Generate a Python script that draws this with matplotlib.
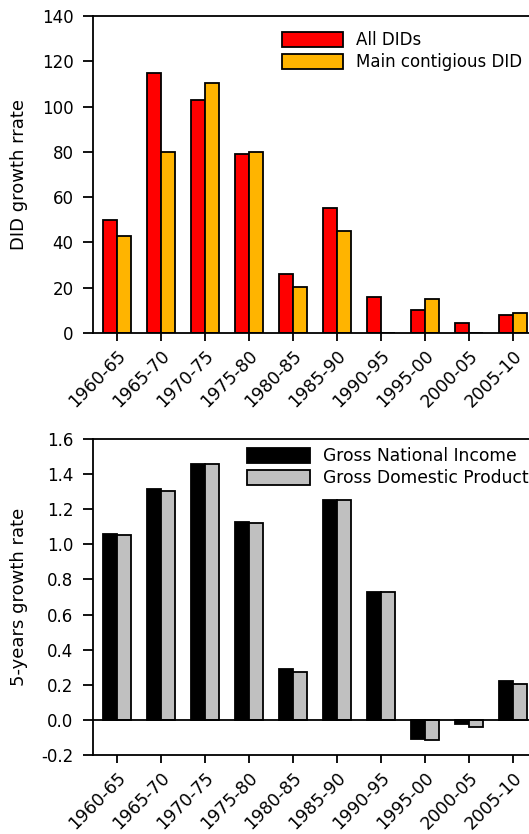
import numpy as np
import matplotlib
matplotlib.use('Agg')
import matplotlib.pyplot as plt

# data
periods = ['1960-65', '1965-70', '1970-75', '1975-80', '1980-85',
           '1985-90', '1990-95', '1995-00', '2000-05', '2005-10']
all_dids = [50, 115, 103, 79, 26, 55, 16, 10, 4.5, 8]
main_did = [43, 80, 110.5, 80, 20.5, 45, 0, 15, 0, 9]
gni = [1.06, 1.317, 1.455, 1.125, 0.289, 1.251, 0.728, -0.108, -0.025, 0.219]
gdp = [1.055, 1.306, 1.455, 1.12, 0.274, 1.25, 0.728, -0.117, -0.038, 0.206]

plt.rcParams['font.family'] = 'DejaVu Sans'
plt.rcParams['font.size'] = 12

W, H = 529, 834
fig = plt.figure(figsize=(W / 100, H / 100), dpi=100)

x = np.arange(len(periods))
bw = 0.32
ax_left = 93 / W
ax_width = 443.5 / W


def style_axes(ax):
    ax.spines['right'].set_visible(False)
    for s in ['left', 'top', 'bottom']:
        ax.spines[s].set_linewidth(1.3)
    ax.set_xlim(-0.54, 9.54)
    ax.set_xticks(x)
    ax.set_xticklabels(periods, rotation=45, ha='right', rotation_mode='anchor', fontsize=12.5)
    ax.tick_params(axis='x', length=6, width=1.3, pad=4)
    ax.tick_params(axis='y', length=7, width=1.3, pad=7)
    ax.yaxis.set_label_coords((28 - 93) / 443.5, 0.5)


# top: DID growth
ax1 = fig.add_axes([ax_left, 1 - 333 / H, ax_width, 317 / H])
ax1.bar(x - bw / 2, all_dids, bw, color='#ff0000', edgecolor='black', linewidth=1.3, label='All DIDs')
ax1.bar(x + bw / 2, main_did, bw, color='#ffb400', edgecolor='black', linewidth=1.3, label='Main contigious DID')
ax1.set_ylim(0, 140)
ax1.set_yticks(np.arange(0, 141, 20))
ax1.set_ylabel('DID growth rrate', fontsize=13)
style_axes(ax1)
ax1.legend(loc='upper left', bbox_to_anchor=(282 / W, 1 - 31 / H), bbox_transform=fig.transFigure,
           frameon=False, borderpad=0, borderaxespad=0, handlelength=3.66, handleheight=1.0,
           handletextpad=0.8, labelspacing=0.25)

# bottom: income growth
ax2 = fig.add_axes([ax_left, 1 - 755 / H, ax_width, 316 / H])
ax2.bar(x - bw / 2, gni, bw, color='black', edgecolor='black', linewidth=1.3, label='Gross National Income')
ax2.bar(x + bw / 2, gdp, bw, color='#c0c0c0', edgecolor='black', linewidth=1.3, label='Gross Domestic Product')
ax2.axhline(0, color='black', linewidth=1.3)
ax2.set_ylim(-0.2, 1.6)
ax2.set_yticks(np.arange(-0.2, 1.61, 0.2))
ax2.set_yticklabels(['%.1f' % v for v in np.arange(-0.2, 1.61, 0.2)])
ax2.set_ylabel('5-years growth rate', fontsize=13)
style_axes(ax2)
ax2.legend(loc='upper left', bbox_to_anchor=(247 / W, 1 - 447 / H), bbox_transform=fig.transFigure,
           frameon=False, borderpad=0, borderaxespad=0, handlelength=3.66, handleheight=1.0,
           handletextpad=0.8, labelspacing=0.25, fontsize=12.3)

fig.savefig('out.png', dpi=100)
